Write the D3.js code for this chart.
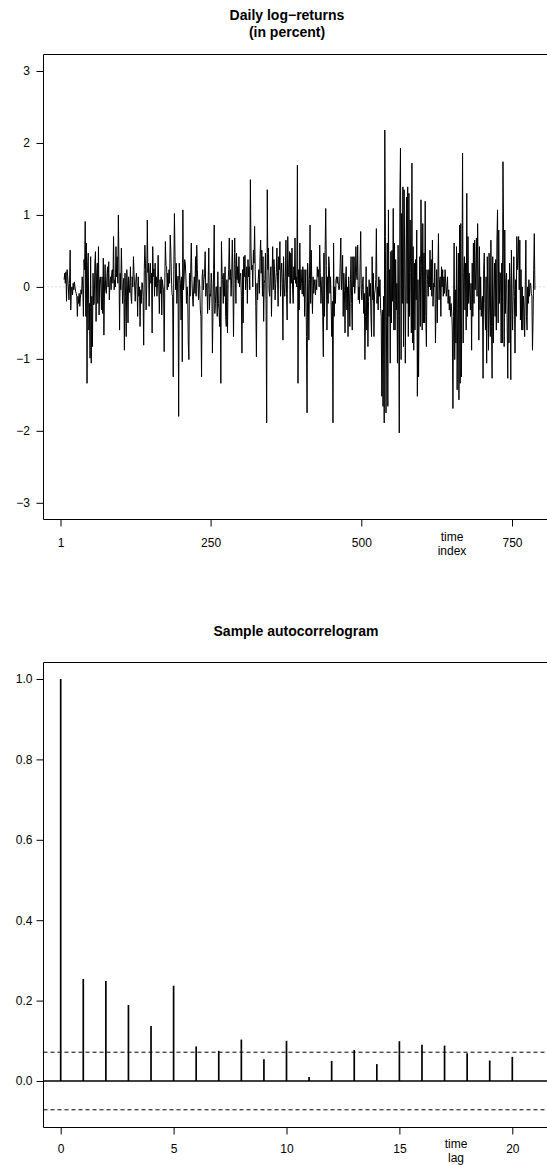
<!DOCTYPE html>
<html>
<head>
<meta charset="utf-8">
<script src="https://cdn.jsdelivr.net/npm/d3@7/dist/d3.min.js"></script>
<style>
  html, body { margin: 0; padding: 0; background: #fff; }
  svg { display: block; }
  text { font-family: "Liberation Sans", Arial, Helvetica, sans-serif; fill: #000; }
</style>
</head>
<body>
<svg id="chart" width="547" height="1165"></svg>
<script>
// Daily log-returns in percent, in time order (four consecutive stretches)
const returnsA = [
  0.10, 0.19, 0.05, 0.21, -0.20, 0.24, 0.14, 0.00, -0.18, 0.05,
  0.51, -0.32, -0.04, 0.00, -0.11, 0.05, -0.04, 0.07, 0.00, -0.06,
  -0.09, -0.13, -0.41, -0.13, -0.23, -0.09, -0.27, -0.16, -0.04, -0.10,
  0.14, 0.00, -0.41, 0.38, 0.24, 0.91, -0.41, 0.61, -1.34, 0.30,
  0.47, -0.60, -0.23, -0.99, 0.42, -1.06, -0.13, -0.83, 0.19, -0.25,
  -0.23, 0.33, 0.49, -0.48, 0.19, 0.33, -0.23, 0.56, -0.39, 0.10,
  0.14, 0.00, -0.32, 0.14, -0.37, 0.40, -0.67, 0.00, 0.31, -0.05,
  -0.09, 0.14, 0.28, 0.00, 0.35, -0.18, 0.05, 0.14, -0.04, 0.20,
  0.24, 0.05, 0.70, -0.04, 0.10, 0.00, 0.56, 0.14, 0.42, 0.05,
  1.00, 0.33, -0.60, 0.19, -0.04, 0.54, 0.10, -0.23, 0.00, 0.12,
  -0.88, 0.19, -0.13, -0.69, 0.24, 0.00, -0.50, 0.14, 0.00, -0.08,
  0.28, -0.13, -0.23, 0.14, 0.00, 0.42, 0.19, 0.00, -0.20, 0.08,
  0.19, 0.00, -0.41, 0.14, -0.13, 0.00, -0.55, -0.04, -0.23, 0.06,
  0.05, -0.13, -0.81, 0.24, 0.58, 0.33, -0.32, 0.00, 0.93, 0.20,
  0.33, -0.27, 0.19, 0.33, 0.05, 0.19, -0.64, 0.56, 0.14, 0.25,
  -0.13, 0.33, 0.00, 0.14, -0.13, 0.05, 0.44, 0.00, -0.37, 0.10,
  -0.09, 0.14, -0.39, 0.10, 0.00, -0.04, -0.90, 0.05, 0.63, 0.30,
  0.28, -0.04, 0.19, 0.00, 0.24, 0.05, 0.72, 0.51, 0.14, -0.10,
  -0.13, -1.25, 0.24, 1.02, 0.42, -0.04, 0.33, -0.23, 0.00, 0.15,
  -1.80, 0.33, 0.14
];
const returnsB = [
  0.05, -0.46, 0.14, -1.04, 1.07, -0.04, 0.10, 0.38, 0.33, 0.15,
  -0.23, 0.00, -0.13, -0.78, -1.01, 0.19, -0.13, 0.24, 0.61, 0.10,
  -0.13, -0.27, 0.00, 0.14, -0.09, 0.42, -0.13, 0.58, 0.24, 0.05,
  -0.18, 0.10, 0.00, -0.32, -0.41, -1.25, 0.14, 0.24, -0.04, 0.10,
  0.19, 0.49, -0.13, 0.00, 0.05, -0.37, 0.05, 0.54, -0.32, -0.10,
  -0.13, 0.19, 0.05, -0.92, -0.32, 0.24, 0.86, -0.37, -0.23, 0.00,
  0.00, -0.41, 0.21, -0.23, -0.32, -0.55, 0.00, -1.34, 0.63, 0.20,
  0.10, -0.23, 0.19, -0.13, 0.28, -0.41, -0.55, 0.10, -0.64, 0.05,
  0.24, 0.68, 0.10, 0.24, -0.13, 0.14, 0.65, 0.12, -0.69, 0.10,
  0.68, 0.24, -0.23, 0.47, 0.10, 0.28, 0.05, 0.42, 0.00, 0.15,
  0.19, -0.13, -0.92, 0.24, -0.50, 0.42, 0.14, 0.44, -0.04, 0.12,
  0.28, -0.23, 0.38, 0.14, 0.28, -0.04, 1.49, 0.51, 0.24, 0.30,
  0.00, 0.51, 0.33, 0.84, 0.24, -0.27, -0.97, 0.05, -0.18, 0.10,
  0.24, -0.09, 0.42, 0.65, 0.19, 0.51, -0.13, 0.42, -0.48, 0.05,
  0.10, 0.47, -0.23, -1.89, 1.35, 0.24, 0.54, -0.04, -0.13, 0.15,
  0.28, -0.41, 0.14, 0.56, -0.04, 0.38, 0.24, -0.18, 0.05, 0.20,
  0.54, 0.14, -0.27, 0.42, 0.24, 0.63, -0.13, 0.19, 0.33, 0.05,
  -0.74, 0.42, 0.00, -0.13, 0.14, 0.65, -0.09, -0.46, 0.70, 0.20,
  0.14, 0.49, -0.23, 0.47, 0.05, 0.54, -0.04, -0.23, 0.28, 0.10,
  0.68, 0.05, 0.14
];
const returnsC = [
  0.00, 1.69, -1.34, 0.24, -0.32, 0.61, -0.04, 0.24, 0.05, -0.10,
  0.28, -0.13, 0.24, -0.41, 0.00, 0.24, -0.69, -1.75, 0.33, 0.05,
  -0.74, 0.10, 0.86, -0.23, 0.51, 0.00, -0.37, 0.14, -0.09, 0.10,
  0.00, -0.11, 0.10, -0.04, 0.28, 0.14, 0.24, 0.00, 0.58, 0.20,
  -0.23, -0.04, 0.14, -0.41, -0.97, 0.47, -0.41, 0.51, 1.09, 0.30,
  -0.60, 0.14, -0.23, 0.42, 0.28, -0.09, 0.14, -0.27, -0.69, -0.20,
  -1.89, 0.61, -0.41, 0.00, -0.23, 0.10, 0.14, 0.05, 0.14, 0.02,
  -0.04, 0.00, 0.33, 0.68, -0.04, 0.14, 0.44, -0.41, 0.19, -0.05,
  -0.64, 0.14, 0.28, -0.32, 0.00, -0.69, 0.14, -0.09, -0.55, 0.10,
  0.42, -0.23, -0.60, 0.42, 0.00, 0.42, -0.09, 0.05, 0.56, 0.20,
  0.10, 0.58, -0.18, 0.00, -0.23, 0.33, 0.77, -0.04, -0.18, 0.05,
  0.14, -0.37, -0.09, -1.01, -0.41, 0.28, -0.60, 0.00, -0.83, -0.20,
  0.10, -0.13, 0.05, -0.41, -0.69, 0.42, -0.18, 0.19, -0.69, -0.10,
  -0.04, 0.10, 0.81, -0.23, 0.00, -0.32, 0.14, -0.13, 0.10, -0.30,
  -0.41, -1.52, -0.32, -1.66, -0.13, -1.89, 2.18, 0.70, -1.75, -0.50,
  0.61, -1.66, 1.07, -0.41, 0.24, -1.06, 0.49, -0.50, 0.51, -0.20,
  1.09, -0.60, 0.61, -0.60, 0.38, -0.32, 0.05, -1.06, 0.58, -0.40,
  -2.03, 1.25, 1.93, -1.01, 1.02, -0.23, 1.39, -0.83, 1.35, 0.40,
  -1.06, 0.05, 1.25, -0.23, 1.39, -0.69, 1.30, -0.41, 0.93, 0.20,
  -0.64, 1.72, -0.78, 0.56, -0.88, 0.33, -0.60, 0.38
];
const returnsD = [
  -0.18, 0.79, -1.52, 0.10, -1.25, -0.23, 0.42, -0.55, 1.21, 0.30,
  -0.60, 0.88, -0.50, 0.47, -0.50, 1.19, -0.41, -0.83, 0.24, 0.10,
  -0.13, 0.24, 0.00, 0.51, -0.04, 0.38, -0.13, 0.65, -0.27, 0.05,
  0.00, 0.33, -0.78, -0.23, 0.24, -0.50, 0.14, 0.74, -0.18, 0.10,
  0.14, -0.41, 0.28, 0.00, 0.24, -0.13, 0.14, -0.09, 0.24, 0.05,
  -0.13, 0.00, 0.14, -0.23, -0.04, -0.32, -0.13, -0.41, -0.23, -0.35,
  -0.60, -1.69, -0.41, 0.61, -1.01, -0.04, -0.78, 0.56, -1.43, -0.30,
  0.47, -1.57, 0.86, -1.34, 0.88, -1.25, 0.05, 1.86, -0.78, 0.20,
  0.42, -0.32, 0.33, -0.60, 1.30, -0.41, 0.70, -0.23, 0.19, -0.10,
  -0.32, 0.05, -0.88, 0.33, -0.41, 0.61, -0.23, 0.65, -0.04, 0.25,
  0.68, -0.13, 0.88, 0.14, -0.74, 0.56, -0.32, 0.14, -0.41, -0.20,
  -0.13, -1.27, 0.24, 0.47, -0.23, -0.60, 0.14, -1.06, 0.42, -0.10,
  -0.88, 0.47, -0.32, -0.69, 0.65, -0.55, -1.27, 0.42, -0.78, -0.15,
  0.33, -0.41, 0.38, -0.60, 0.65, 1.07, -0.50, 0.79, -0.23, 0.20,
  0.19, -0.78, 0.33, -0.78, 1.74, 0.79, -0.83, 0.79, -0.37, 0.10,
  0.19, -0.50, -1.27, 0.10, -0.78, 0.33, 0.05, -1.29, 0.51, -0.20,
  -0.60, -0.04, 0.42, -0.13, -0.92, 0.10, -0.41, 0.70, 0.24, 0.40,
  0.70, -0.04, 0.65, -0.46, 0.24, -0.60, 0.00, -0.60, -0.13, -0.30,
  -0.69, 0.00, 0.65, -0.41, -0.60, 0.00, -0.23, 0.10, -0.13, 0.05,
  0.05, -0.09, -0.13, -0.88, -0.41, 0.24, 0.74, -0.04
];
const returns = returnsA.concat(returnsB, returnsC, returnsD);
const firstIndex = 7;   // time index of the first return in the series

const timeTicks = [1, 250, 500, 750];
const returnTicks = [-3, -2, -1, 0, 1, 2, 3];

// Sample autocorrelations at lags 0..20
const acfLags = [0, 1, 2, 3, 4, 5, 6, 7, 8, 9, 10, 11, 12, 13, 14, 15, 16, 17, 18, 19, 20];
const acfValues = [1.0, 0.254, 0.249, 0.189, 0.137, 0.237, 0.086, 0.075, 0.103, 0.054, 0.100,
                   0.010, 0.050, 0.077, 0.042, 0.099, 0.090, 0.088, 0.069, 0.051, 0.060];
const acfBound = 0.0716;   // 1.96 / sqrt(n)
const lagTicks = [0, 5, 10, 15, 20];
const acfTicks = [0.0, 0.2, 0.4, 0.6, 0.8, 1.0];

const svg = d3.select("#chart");
const W = 547;

// ---------- top panel: the return series ----------
const seriesBox = { left: 43.5, top: 54.5, bottom: 519.5 };
const xTime = d3.scaleLinear().domain([1, 750]).range([60.5, 512]);
const yRet = d3.scaleLinear().domain([-3, 3]).range([502.8, 71]);

const g1 = svg.append("g");

g1.append("text").attr("x", 287).attr("y", 20).attr("text-anchor", "middle")
  .style("font-size", "14px").style("font-weight", "bold").text("Daily log\u2212returns");
g1.append("text").attr("x", 287).attr("y", 37).attr("text-anchor", "middle")
  .style("font-size", "14px").style("font-weight", "bold").text("(in percent)");

// zero reference
g1.append("line")
  .attr("x1", seriesBox.left).attr("x2", W)
  .attr("y1", yRet(0)).attr("y2", yRet(0))
  .attr("stroke", "#b8b8b8").attr("stroke-width", 1).attr("stroke-dasharray", "1,3");

g1.append("path")
  .datum(returns)
  .attr("fill", "none")
  .attr("stroke", "#000")
  .attr("stroke-width", 1)
  .attr("stroke-linejoin", "round")
  .attr("d", d3.line().x((d, i) => xTime(firstIndex + i)).y(d => yRet(d)));

// frame
g1.append("path")
  .attr("d", `M${W},${seriesBox.top}H${seriesBox.left}V${seriesBox.bottom}H${W}`)
  .attr("fill", "none").attr("stroke", "#000").attr("stroke-width", 1);

g1.append("g").attr("transform", `translate(${seriesBox.left},0)`)
  .call(d3.axisLeft(yRet).tickValues(returnTicks).tickSize(7).tickPadding(6.5).tickFormat(d3.format("d")));
g1.append("g").attr("transform", `translate(0,${seriesBox.bottom})`)
  .call(d3.axisBottom(xTime).tickValues(timeTicks).tickSize(7).tickPadding(12).tickFormat(d3.format("d")));
g1.append("text").attr("x", 452).attr("y", 540.5).attr("text-anchor", "middle").style("font-size", "12px").text("time");
g1.append("text").attr("x", 452).attr("y", 555).attr("text-anchor", "middle").style("font-size", "12px").text("index");

// ---------- bottom panel: sample autocorrelogram ----------
const acfBox = { left: 43.5, top: 662.5, bottom: 1127.5 };
const xLag = d3.scaleLinear().domain([0, 20]).range([60.7, 512.3]);
const yAcf = d3.scaleLinear().domain([0, 1]).range([1081, 679]);

const g2 = svg.append("g");
g2.append("text").attr("x", 296).attr("y", 636).attr("text-anchor", "middle")
  .style("font-size", "14px").style("font-weight", "bold").text("Sample autocorrelogram");

g2.append("line")
  .attr("x1", acfBox.left).attr("x2", W)
  .attr("y1", yAcf(0)).attr("y2", yAcf(0))
  .attr("stroke", "#000").attr("stroke-width", 1.3);

g2.selectAll("line.bound")
  .data([acfBound, -acfBound])
  .join("line").attr("class", "bound")
  .attr("x1", acfBox.left).attr("x2", W)
  .attr("y1", d => yAcf(d)).attr("y2", d => yAcf(d))
  .attr("stroke", "#000").attr("stroke-width", 1).attr("stroke-dasharray", "4,3");

g2.selectAll("line.spike")
  .data(acfLags)
  .join("line").attr("class", "spike")
  .attr("x1", d => xLag(d)).attr("x2", d => xLag(d))
  .attr("y1", yAcf(0)).attr("y2", (d, i) => yAcf(acfValues[i]))
  .attr("stroke", "#000").attr("stroke-width", 1.7);

g2.append("path")
  .attr("d", `M${W},${acfBox.top}H${acfBox.left}V${acfBox.bottom}H${W}`)
  .attr("fill", "none").attr("stroke", "#000").attr("stroke-width", 1);

g2.append("g").attr("transform", `translate(${acfBox.left},0)`)
  .call(d3.axisLeft(yAcf).tickValues(acfTicks).tickSize(7).tickPadding(4).tickFormat(d3.format(".1f")));
g2.append("g").attr("transform", `translate(0,${acfBox.bottom})`)
  .call(d3.axisBottom(xLag).tickValues(lagTicks).tickSize(7).tickPadding(10).tickFormat(d3.format("d")));
g2.append("text").attr("x", 456).attr("y", 1147.7).attr("text-anchor", "middle").style("font-size", "12px").text("time");
g2.append("text").attr("x", 456).attr("y", 1162).attr("text-anchor", "middle").style("font-size", "12px").text("lag");

// axis styling: no domain path, plain ticks, 12px labels
svg.selectAll(".domain").remove();
svg.selectAll(".tick line").attr("stroke", "#000");
svg.selectAll(".tick text").style("font-size", "12px")
  .style("font-family", "'Liberation Sans', Arial, Helvetica, sans-serif").attr("fill", "#000");
</script>
</body>
</html>
